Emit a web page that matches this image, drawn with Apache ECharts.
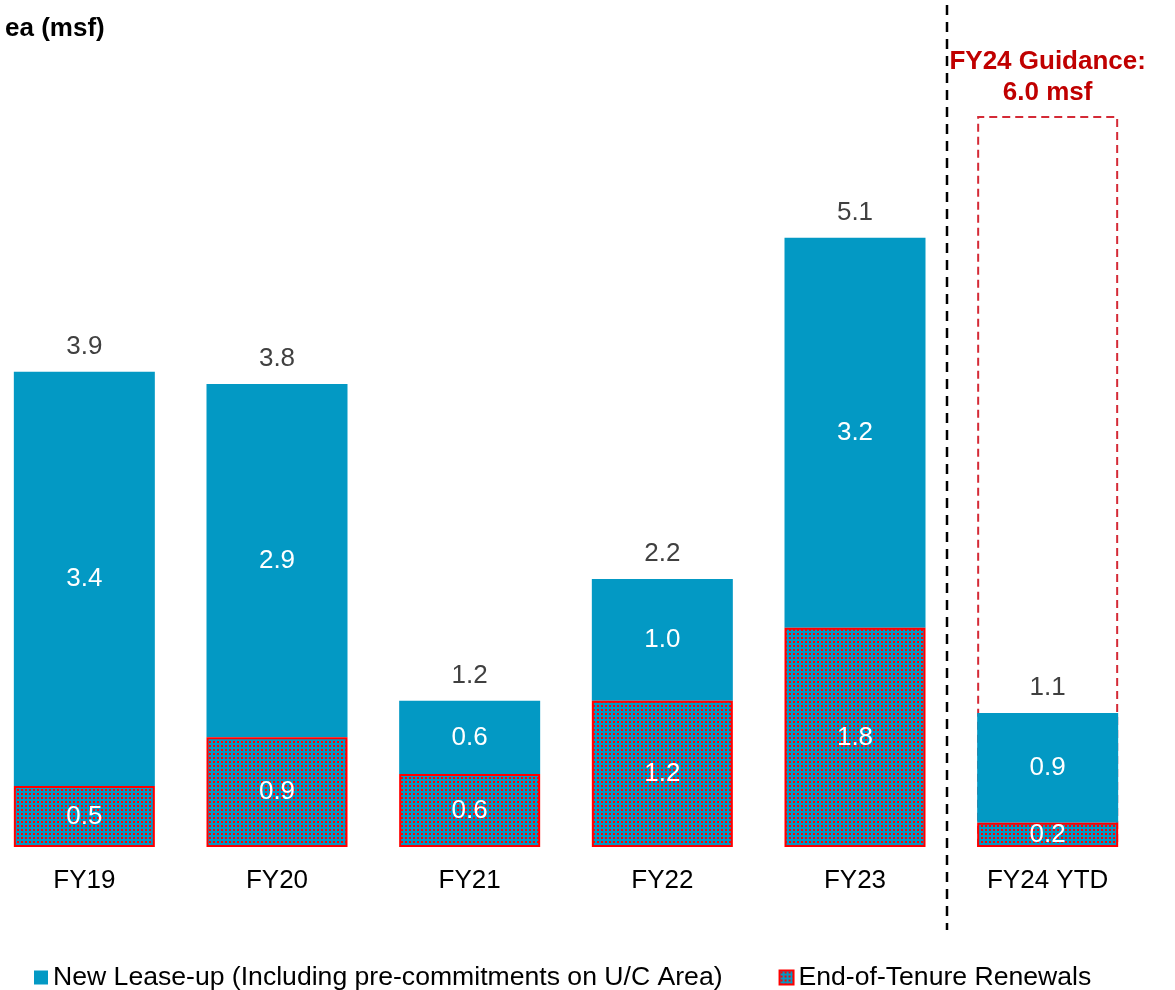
<!DOCTYPE html>
<html>
<head>
<meta charset="utf-8">
<script src="https://cdn.jsdelivr.net/npm/echarts@6/dist/echarts.min.js"></script>
<style>
  html, body { margin: 0; padding: 0; background: #fff; overflow: hidden; }
  /* chart starts a little left of the page so FY19 sits at the edge */
  #chart { width: 1187px; height: 990px; margin-left: -12px; }
</style>
</head>
<body>
<div id="chart"></div>
<script>
const categories = ["FY19", "FY20", "FY21", "FY22", "FY23", "FY24 YTD"];
const renewals = [0.5, 0.9, 0.6, 1.2, 1.8, 0.2];
const newLease = [3.4, 2.9, 0.6, 1.0, 3.2, 0.9];
const totals = [3.9, 3.8, 1.2, 2.2, 5.1, 1.1];
const guidance = [null, null, null, null, null, 6.0];

const BLUE = "#0399c4";
const RED = "#ff0000";
const FS = 26;

// red dots on blue, like the renewals fill
function dotPattern() {
  const c = document.createElement("canvas");
  c.width = 4;
  c.height = 4;
  const ctx = c.getContext("2d");
  ctx.fillStyle = BLUE;
  ctx.fillRect(0, 0, 4, 4);
  ctx.fillStyle = RED;
  ctx.fillRect(1, 1, 2, 2);
  return c;
}

const el = echarts.init(document.getElementById("chart"));
const font = "Liberation Sans, Arial, sans-serif";

const options = {
  animation: false,
  textStyle: { fontFamily: font },
  title: {
    text: "ea (msf)",
    left: 12,
    top: 11,
    textStyle: { fontSize: FS, fontWeight: "bold", color: "#000", fontFamily: font },
  },
  grid: { left: 0, right: 31, top: 55, bottom: 143 },
  legend: {
    data: [
      "New Lease-up (Including pre-commitments on U/C Area)",
      "End-of-Tenure Renewals",
    ],
    top: 964,
    left: 46,
    padding: 0,
    icon: "rect",
    itemWidth: 14,
    itemHeight: 14,
    itemGap: 56,
    textStyle: { fontSize: 26.6, lineHeight: 26, color: "#000", fontFamily: font },
  },
  xAxis: {
    type: "category",
    data: categories,
    axisLine: { show: false },
    axisTick: { show: false },
    axisLabel: { fontSize: FS, color: "#000", margin: 21, fontFamily: font },
  },
  yAxis: {
    type: "value",
    min: 0,
    max: 6.5,
    show: false,
    splitLine: { show: false },
  },
  series: [
    {
      name: "Guidance",
      type: "bar",
      data: guidance,
      barWidth: 141,
      barGap: "-100%",
      itemStyle: {
        color: "rgba(0,0,0,0)",
        borderColor: "#d42a36",
        borderWidth: 2,
        borderType: [8, 5],
      },
      label: {
        show: true,
        position: "top",
        distance: 8,
        formatter: "FY24 Guidance:\n6.0 msf",
        color: "#c00000",
        fontSize: FS,
        fontWeight: "bold",
        lineHeight: 31,
        fontFamily: font,
      },
      z: 1,
    },
    {
      name: "End-of-Tenure Renewals",
      type: "bar",
      stack: "a",
      data: renewals,
      barWidth: 141,
      itemStyle: {
        color: { image: dotPattern(), repeat: "repeat" },
        borderColor: RED,
        borderWidth: 2,
      },
      label: {
        show: true,
        position: "inside",
        color: "#fff",
        fontSize: FS,
        fontFamily: font,
        formatter: (p) => p.value.toFixed(1),
      },
      z: 3,
    },
    {
      name: "New Lease-up (Including pre-commitments on U/C Area)",
      type: "bar",
      stack: "a",
      data: newLease,
      barWidth: 141,
      itemStyle: { color: BLUE },
      label: {
        show: true,
        position: "inside",
        color: "#fff",
        fontSize: FS,
        fontFamily: font,
        formatter: (p) => p.value.toFixed(1),
      },
      z: 2,
    },
    {
      name: "Total",
      type: "bar",
      stack: "a",
      data: totals.map(() => 0),
      barWidth: 141,
      itemStyle: { color: "rgba(0,0,0,0)" },
      label: {
        show: true,
        position: "top",
        distance: 12,
        color: "#404040",
        fontSize: FS,
        fontFamily: font,
        formatter: (p) => totals[p.dataIndex].toFixed(1),
      },
      z: 4,
    },
  ],
};

el.setOption(options);

// dashed divider between FY23 and FY24 YTD
const x1 = el.convertToPixel({ xAxisIndex: 0 }, "FY23");
const x2 = el.convertToPixel({ xAxisIndex: 0 }, "FY24 YTD");
const xd = Math.round((x1 + x2) / 2) - 4;
el.setOption({
  graphic: [
    {
      type: "line",
      shape: { x1: xd, y1: 5, x2: xd, y2: 930 },
      style: { stroke: "#000", lineWidth: 2.5, lineDash: [10, 7] },
    },
  ],
});
</script>
</body>
</html>
